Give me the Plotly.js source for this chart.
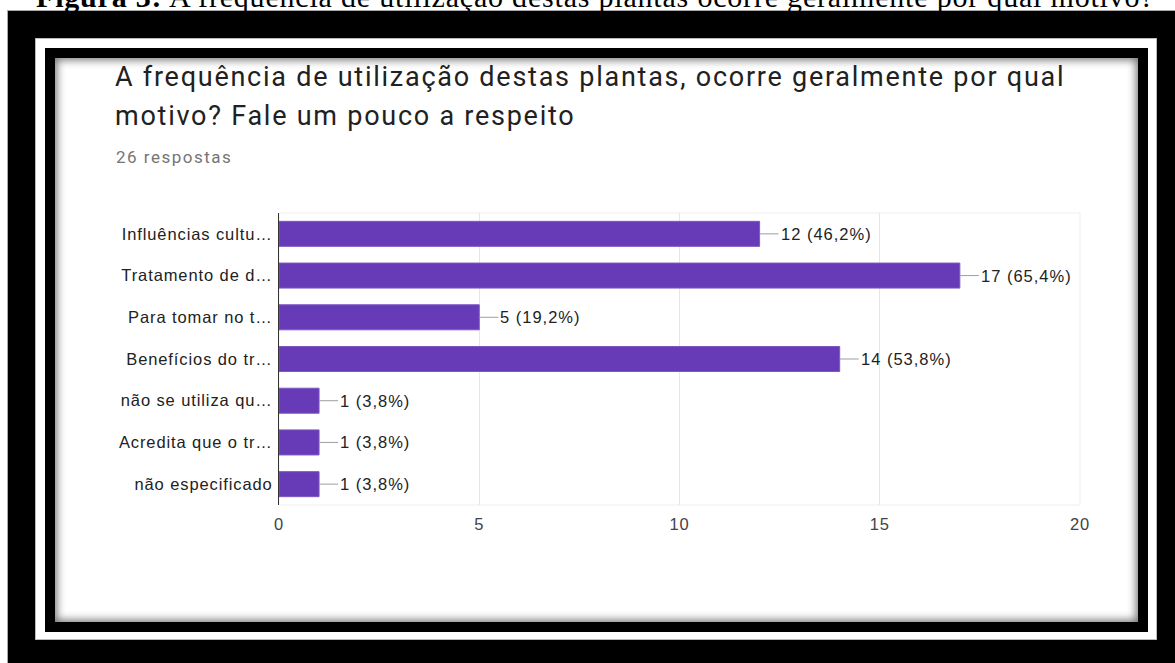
<!DOCTYPE html>
<html><head><meta charset="utf-8">
<script src="https://cdn.plot.ly/plotly-3.0.1.min.js"></script>
<style>
html,body{margin:0;padding:0;width:1175px;height:663px;overflow:hidden;background:#fff;}
.f{position:absolute;box-sizing:border-box;}
</style></head><body>
<div class="f" style="left:7px;top:10px;width:1168px;height:653px;background:#000;border-left:1px solid #aaa;border-top:1px solid #aaa"></div>
<div class="f" style="left:35px;top:38px;width:1122px;height:602px;background:#fff;border:1px solid #bbb"></div>
<div class="f" style="left:45px;top:48px;width:1103px;height:584px;background:#000;"></div>
<div class="f" style="left:55px;top:58px;width:1083px;height:564px;background:#fff;box-shadow:inset 0 0 9px 2px rgba(0,0,0,0.55);"></div>
<div id="chart" style="position:absolute;left:0;top:0;width:1175px;height:663px;"></div>
<script>
const categories = [
  "Influências cultu…",
  "Tratamento de d…",
  "Para tomar no t…",
  "Benefícios do tr…",
  "não se utiliza qu…",
  "Acredita que o tr…",
  "não especificado"
];
const counts = [12, 17, 5, 14, 1, 1, 1];
const percents = ["46,2%", "65,4%", "19,2%", "53,8%", "3,8%", "3,8%", "3,8%"];
const xTicks = [0, 5, 10, 15, 20];
const chartTitle1 = "A frequência de utilização destas plantas, ocorre geralmente por qual";
const chartTitle2 = "motivo? Fale um pouco a respeito";
const subtitle = "26 respostas";
const caption = "<b>Figura 3:</b> A frequência de utilização destas plantas ocorre geralmente por qual motivo?";

const W = 1175, H = 663, L = 279, R = 1080, T = 213, B = 505;
const px = x => (x - L) / (R - L);
const py = y => (B - y) / (B - T);

const annotations = [
  {text: chartTitle1, xref:'paper', yref:'paper', x: px(113), y: py(77), xanchor:'left', yanchor:'middle', showarrow:false,
   font:{family:'Roboto', size:27, color:'#212121'}},
  {text: chartTitle2, xref:'paper', yref:'paper', x: px(113), y: py(116), xanchor:'left', yanchor:'middle', showarrow:false,
   font:{family:'Roboto', size:27, color:'#212121'}},
  {text: subtitle, xref:'paper', yref:'paper', x: px(114), y: py(157), xanchor:'left', yanchor:'middle', showarrow:false,
   font:{family:'Roboto', size:17, color:'#757575'}},
  {text: caption, xref:'paper', yref:'paper', x: px(34), y: py(-4), xanchor:'left', yanchor:'middle', showarrow:false,
   font:{family:'Liberation Serif', size:30, color:'#000'}}
];
const spacing = ['1.75px', '1.75px', '1.5px', '0.8px'];
const shapes = [
  {type:'rect', xref:'paper', yref:'paper', x0:0, x1:1, y0:0, y1:1, line:{color:'#eeeeee', width:1}, layer:'below'}
];
counts.forEach((v, i) => {
  annotations.push({text: v + " (" + percents[i] + ")", x: v, y: i, xref:'x', yref:'y', xanchor:'left', yanchor:'middle',
    xshift: 19, showarrow:false, font:{family:'Liberation Sans', size:16.5, color:'#222'}});
  spacing.push('1px');
  shapes.push({type:'line', xref:'x', yref:'y', xsizemode:'pixel', xanchor: v, x0: 0, x1: 19, y0: i, y1: i,
    line:{color:'#9e9e9e', width:1}});
});

function spaceKeepLeft(t, sp) {
  const b0 = t.getBBox();
  t.style.letterSpacing = sp;
  const b1 = t.getBBox();
  const dx = b0.x - b1.x;
  const old = t.getAttribute('transform') || '';
  t.setAttribute('transform', 'translate(' + dx + ',0) ' + old);
}

Plotly.newPlot('chart', [{
  type:'bar', orientation:'h', x: counts, y: categories,
  marker:{color:'#673ab7', line:{color:'#7e57c2', width:1}},
  hoverinfo:'none'
}], {
  width: W, height: H,
  margin:{l:L, r:W-R, t:T, b:H-B, pad:0},
  paper_bgcolor:'rgba(0,0,0,0)', plot_bgcolor:'rgba(0,0,0,0)',
  showlegend:false, bargap:0.4,
  xaxis:{range:[0,20], tickvals:xTicks, ticktext:xTicks.map(String), showgrid:true, gridcolor:'#e6e6e6', zeroline:false,
    showline:false, ticks:'', ticklabelstandoff:7, tickfont:{family:'Liberation Sans', size:16.5, color:'#444'}, fixedrange:true},
  yaxis:{type:'category', autorange:'reversed', showline:true, linecolor:'#333', linewidth:1, showgrid:false, ticks:'',
    ticklabelstandoff:2, tickfont:{family:'Liberation Sans', size:16.5, color:'#222'}, fixedrange:true},
  annotations, shapes
}, {displayModeBar:false, staticPlot:true}).then(() => {
  document.querySelectorAll('#chart .annotation').forEach((g, i) => {
    const t = g.querySelector('text');
    if (t && spacing[i]) spaceKeepLeft(t, spacing[i]);
  });
  document.querySelectorAll('#chart .xtick text, #chart .ytick text').forEach(t => { t.style.letterSpacing = '0.9px'; });
});
</script>
</body></html>
